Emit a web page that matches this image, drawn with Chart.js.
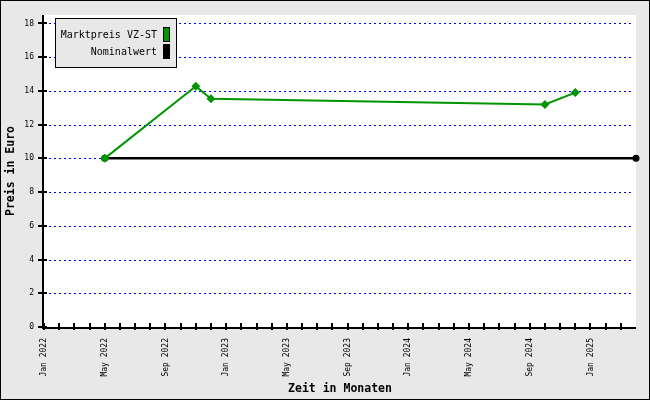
<!DOCTYPE html>
<html>
<head>
<meta charset="utf-8">
<script src="https://cdn.jsdelivr.net/npm/chart.js@4/dist/chart.umd.min.js"></script>
<style>
  html, body { margin: 0; padding: 0; background: #e8e8e8; }
  #wrap { width: 650px; height: 400px; position: relative; }
</style>
</head>
<body>
<div id="wrap"><canvas id="chart" width="650" height="400"></canvas></div>
<script>
// months counted from Jan 2022 (0 = Jan 2022)
const monthNames = ['Jan', 'Feb', 'Mar', 'Apr', 'May', 'Jun', 'Jul', 'Aug', 'Sep', 'Oct', 'Nov', 'Dec'];
const startYear = 2022;
const lastMonth = 39; // Apr 2025
const labelEvery = 4;

const marketMonths = [4, 10, 11, 33, 35];
const marketValues = [10.0, 14.28, 13.53, 13.19, 13.9];

const nominalMonths = [4, 39];
const nominalValues = [10, 10];

const yTicks = [0, 2, 4, 6, 8, 10, 12, 14, 16, 18];

const green = '#009600';
const mono = '"DejaVu Sans Mono", monospace';

function monthLabel(m) {
  return monthNames[m % 12] + ' ' + (startYear + Math.floor(m / 12));
}

function toPoints(xs, ys) {
  return xs.map((x, i) => ({ x: x, y: ys[i] }));
}

// white plot area, dotted grid, outer frame
const frame = {
  id: 'frame',
  beforeDraw(chart) {
    const { ctx, chartArea: a } = chart;
    ctx.save();
    ctx.fillStyle = '#e8e8e8';
    ctx.fillRect(0, 0, chart.width, chart.height);
    ctx.fillStyle = '#ffffff';
    ctx.fillRect(a.left, a.top, a.right - a.left, a.bottom - a.top);
    ctx.restore();
  },
  beforeDatasetsDraw(chart) {
    const { ctx, chartArea: a, scales } = chart;
    ctx.save();
    ctx.strokeStyle = '#0000ff';
    ctx.lineWidth = 1;
    ctx.setLineDash([2, 3]);
    ctx.beginPath();
    scales.y.ticks.forEach(t => {
      if (t.value === 0) return;
      const py = Math.round(scales.y.getPixelForValue(t.value)) + 0.5;
      ctx.moveTo(a.left + 5, py);
      ctx.lineTo(a.right - 3, py);
    });
    ctx.stroke();
    ctx.restore();
  },
  afterDraw(chart) {
    const ctx = chart.ctx;
    ctx.save();
    ctx.strokeStyle = '#000';
    ctx.lineWidth = 1;
    ctx.strokeRect(0.5, 0.5, chart.width - 1, chart.height - 1);
    ctx.restore();
  }
};

// axis lines and tick marks crossing the axes
const crossTicks = {
  id: 'crossTicks',
  afterDatasetsDraw(chart) {
    const { ctx, chartArea: a, scales } = chart;
    ctx.save();
    ctx.strokeStyle = '#000';
    ctx.lineWidth = 2;
    ctx.beginPath();
    ctx.moveTo(a.left - 1, a.top);
    ctx.lineTo(a.left - 1, a.bottom + 1);
    ctx.lineTo(a.right, a.bottom + 1);
    scales.x.ticks.forEach(t => {
      const px = Math.round(scales.x.getPixelForValue(t.value));
      ctx.moveTo(px, a.bottom - 4);
      ctx.lineTo(px, a.bottom + 3);
    });
    scales.y.ticks.forEach(t => {
      const py = Math.round(scales.y.getPixelForValue(t.value));
      ctx.moveTo(a.left - 6, py);
      ctx.lineTo(a.left + 3, py);
    });
    ctx.stroke();
    ctx.restore();
  }
};

// legend box, text right-aligned with swatch on the right
const boxLegend = {
  id: 'boxLegend',
  afterDraw(chart) {
    const ctx = chart.ctx;
    const sets = chart.data.datasets;
    const x0 = 55, y0 = 18, w = 121, rowH = 17;
    const h = sets.length * rowH + 15;
    ctx.save();
    ctx.fillStyle = '#e8e8e8';
    ctx.fillRect(x0, y0, w, h);
    ctx.strokeStyle = '#000';
    ctx.lineWidth = 1;
    ctx.strokeRect(x0 + 0.5, y0 + 0.5, w, h);
    ctx.font = '10px ' + mono;
    ctx.textAlign = 'right';
    ctx.textBaseline = 'middle';
    sets.forEach((ds, i) => {
      const cy = y0 + 17 + i * rowH;
      ctx.fillStyle = '#000';
      ctx.fillText(ds.label, x0 + 102, cy);
      ctx.fillStyle = ds.borderColor;
      ctx.fillRect(x0 + 108, cy - 8, 7, 15);
      ctx.strokeStyle = '#000';
      ctx.strokeRect(x0 + 108.5, cy - 7.5, 6, 14);
    });
    ctx.restore();
  }
};

const data = {
  datasets: [
    {
      label: 'Marktpreis VZ-ST',
      data: toPoints(marketMonths, marketValues),
      borderColor: green,
      backgroundColor: green,
      borderWidth: 2,
      pointStyle: 'rectRot',
      pointRadius: 4.5,
      pointBorderWidth: 0,
      tension: 0,
      clip: false
    },
    {
      label: 'Nominalwert',
      data: toPoints(nominalMonths, nominalValues),
      borderColor: '#000000',
      backgroundColor: '#000000',
      borderWidth: 2.5,
      pointStyle: 'circle',
      pointRadius: 3.5,
      pointBorderWidth: 0,
      tension: 0,
      clip: false
    }
  ]
};

const config = {
  type: 'line',
  data: data,
  options: {
    responsive: false,
    animation: false,
    layout: { padding: { top: 15, right: 14, left: 0, bottom: 0 } },
    plugins: {
      legend: { display: false },
      tooltip: { enabled: false }
    },
    scales: {
      x: {
        type: 'linear',
        min: 0,
        max: lastMonth,
        afterFit(scale) { scale.height = 73; },
        afterBuildTicks(scale) {
          const t = [];
          for (let m = 0; m < lastMonth; m++) t.push({ value: m });
          scale.ticks = t;
        },
        ticks: {
          autoSkip: false,
          minRotation: 90,
          maxRotation: 90,
          padding: 11,
          color: '#000',
          font: { family: mono, size: 8 },
          callback: (v) => (v % labelEvery === 0 ? monthLabel(v) : '')
        },
        grid: {
          drawOnChartArea: false,
          drawTicks: false
        },
        border: { display: false },
        title: {
          display: true,
          text: 'Zeit in Monaten',
          color: '#000',
          font: { family: mono, size: 11.5, weight: 'bold' },
          padding: { top: 0, bottom: 4 }
        }
      },
      y: {
        min: 0,
        max: 18.5,
        afterFit(scale) { scale.width = 44; },
        afterBuildTicks(scale) {
          scale.ticks = yTicks.map(v => ({ value: v }));
        },
        ticks: {
          padding: 10,
          color: '#000',
          font: { family: mono, size: 8 }
        },
        grid: {
          drawOnChartArea: false,
          drawTicks: false
        },
        border: { display: false },
        title: {
          display: true,
          text: 'Preis in Euro',
          color: '#000',
          font: { family: mono, size: 11.5, weight: 'bold' },
          padding: { top: 4, bottom: 0 }
        }
      }
    }
  },
  plugins: [frame, crossTicks, boxLegend]
};

const myChart = new Chart(document.getElementById('chart').getContext('2d'), config);
</script>
</body>
</html>
